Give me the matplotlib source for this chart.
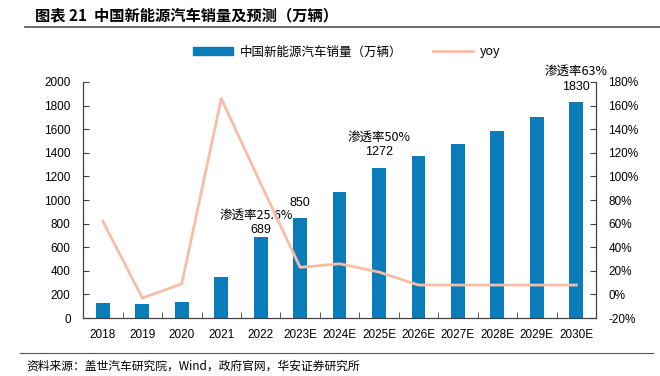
import matplotlib
matplotlib.use("Agg")
import matplotlib.pyplot as plt
from matplotlib.lines import Line2D
from matplotlib.patches import Patch

plt.rcParams['font.family'] = ['Liberation Sans', 'Noto Sans CJK SC']

## Data
years = ["2018", "2019", "2020", "2021", "2022", "2023E", "2024E", "2025E",
         "2026E", "2027E", "2028E", "2029E", "2030E"]
sales = [126, 121, 137, 352, 689, 850, 1068, 1272, 1373, 1475, 1585, 1703, 1830]
yoy = [62, -3, 9, 166, 94, 23, 26, 19, 8, 8, 8, 8, 8]
yticks_left = [0, 200, 400, 600, 800, 1000, 1200, 1400, 1600, 1800, 2000]
yticks_right = [-20, 0, 20, 40, 60, 80, 100, 120, 140, 160, 180]
notes = {4: "渗透率25.6%", 7: "渗透率50%", 12: "渗透率63%"}
# which bars get a value label, and the gap above the bar (in data units)
shown = {4: 5, 5: 70, 7: 80, 12: 80}
note_shift = {4: -0.1, 7: 0, 12: 0}

bar_color = "#0A7CBA"
line_color = "#F7BEA5"
cjk = ['Noto Sans CJK SC', 'Liberation Sans']

fig = plt.figure(figsize=(6.6, 3.76), dpi=100)
ax = fig.add_axes([0.126, 0.154, 0.777, 0.628])
ax2 = ax.twinx()

x = list(range(len(years)))
ax.bar(x, sales, width=0.35, color=bar_color, zorder=2)
ax2.plot(x, yoy, color=line_color, linewidth=2, zorder=3)

ax.set_xlim(-0.5, len(years) - 0.5)
ax.set_ylim(0, 2000)
ax.set_yticks(yticks_left)
ax2.set_ylim(-20, 180)
ax2.set_yticks(yticks_right)
ax2.set_yticklabels([f"{v}%" for v in yticks_right])

ax.set_xticks(x)
ax.set_xticklabels(years)
ax.set_xticks([i + 0.5 for i in x[:-1]], minor=True)
ax.tick_params(axis='x', which='major', length=0, labelsize=8.5, pad=8)
ax.tick_params(axis='x', which='minor', direction='in', length=4, color="#404040")
ax.tick_params(axis='y', direction='in', length=4, labelsize=8.5, pad=9, color="#404040")
ax2.tick_params(axis='y', direction='in', length=4, labelsize=8.5, pad=9, color="#404040")

for a in (ax, ax2):
    a.spines['top'].set_visible(False)
    for s in ('left', 'right', 'bottom'):
        a.spines[s].set_color("#404040")

# bar labels
for i, gap in shown.items():
    ax.text(i, sales[i] + gap, str(sales[i]), ha='center', va='bottom', fontsize=9)
    if i in notes:
        ax.text(i + note_shift[i], sales[i] + gap + 125, notes[i], ha='center',
                va='bottom', fontsize=9, family=cjk)

# legend
handles = [Patch(color=bar_color), Line2D([0], [0], color=line_color, lw=2)]
fig.legend(handles, ["中国新能源汽车销量（万辆）", "yoy"], loc='center',
           bbox_to_anchor=(0.525, 0.862), ncol=2, frameon=False,
           handlelength=3.2, handleheight=0.5, columnspacing=2.5, handletextpad=0.5,
           prop={'family': cjk, 'size': 9})

# title and source
fig.text(0.053, 0.958, "图表 21  中国新能源汽车销量及预测（万辆）", fontsize=11,
         fontweight='bold', va='center', family=cjk)
fig.add_artist(Line2D([0.038, 1.0], [0.928, 0.928], color="#555555", lw=1.2))
fig.add_artist(Line2D([0.03, 0.99], [0.062, 0.062], color="#555555", lw=0.8))
fig.text(0.04, 0.026, "资料来源：盖世汽车研究院，Wind，政府官网，华安证券研究所", fontsize=8.5,
         va='center', family=cjk)

fig.savefig("out.png", dpi=100)
